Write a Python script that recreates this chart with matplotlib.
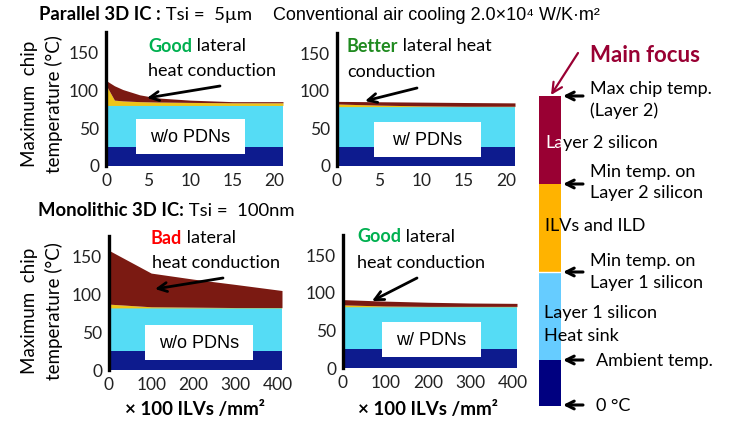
import matplotlib
matplotlib.use('Agg')
import matplotlib.pyplot as plt
from matplotlib.patches import Rectangle

plt.rcParams['font.family'] = ['Lato', 'DejaVu Sans']

W, H = 736, 423

# layer boundary temperatures (degC)
ambient = 25

par_wo_x = [0, 1, 2, 4, 6, 10, 15, 21]
par_wo_l1 = [80, 80, 80, 80, 80, 80, 80, 80]
par_wo_l2min = [107, 87, 86, 85, 84.5, 84, 83.5, 83.5]
par_wo_max = [113, 106, 101, 94, 90, 87, 85, 85]

par_w_x = [0, 5, 10, 15, 21]
par_w_l1 = [79, 79, 79, 79, 79]
par_w_l2min = [82.5, 81, 80, 79.5, 79.5]
par_w_max = [86, 85.5, 85, 84.5, 84]

mono_wo_x = [0, 100, 200, 300, 410]
mono_wo_l1 = [82, 82, 82, 82, 82]
mono_wo_l2min = [87, 83.5, 83, 82.5, 82.5]
mono_wo_max = [158, 128, 120, 113, 105]

mono_w_x = [0, 100, 200, 300, 410]
mono_w_l1 = [81.5, 81.5, 81.5, 81.5, 81.5]
mono_w_l2min = [84, 82.5, 82, 82, 82]
mono_w_max = [91, 89, 87.5, 86.5, 86]

yticks = [0, 50, 100, 150]
par_xticks = [0, 5, 10, 15, 20]
mono_xticks = [0, 100, 200, 300, 400]

c_navy = '#0d1b8e'
c_cyan = '#55dcf5'
c_yel = '#f0c419'
c_red = '#7b1a12'

fig = plt.figure(figsize=(W / 100, H / 100), dpi=100)


def panel(box, x, l1, l2min, tmax, xticks, xmax):
    l, t, r, b = box
    ax = fig.add_axes([l / W, 1 - b / H, (r - l) / W, (b - t) / H])
    base = [ambient] * len(x)
    ax.fill_between(x, 0, base, color=c_navy, lw=0)
    ax.fill_between(x, base, l1, color=c_cyan, lw=0)
    ax.fill_between(x, l1, l2min, color=c_yel, lw=0)
    ax.fill_between(x, l2min, tmax, color=c_red, lw=0)
    ax.set_xlim(0, xmax)
    ax.set_ylim(0, 177)
    ax.set_xticks(xticks)
    ax.set_yticks(yticks)
    ax.tick_params(length=0, labelsize=12.5, pad=5, labelcolor='#222222')
    for s in ['top', 'right', 'bottom']:
        ax.spines[s].set_visible(False)
    ax.spines['left'].set_linewidth(2.4)
    ax.spines['left'].set_color('black')
    return ax


panel((106, 32, 283, 166), par_wo_x, par_wo_l1, par_wo_l2min, par_wo_max, par_xticks, 21)
panel((337, 33, 515, 166), par_w_x, par_w_l1, par_w_l2min, par_w_max, par_xticks, 21)
panel((109, 236, 282, 370), mono_wo_x, mono_wo_l1, mono_wo_l2min, mono_wo_max, mono_xticks, 410)
panel((343, 235, 517, 368), mono_w_x, mono_w_l1, mono_w_l2min, mono_w_max, mono_xticks, 410)

# overlay in pixel coordinates for all the annotation work
ov = fig.add_axes([0, 0, 1, 1], zorder=10)
ov.set_xlim(0, W)
ov.set_ylim(H, 0)
ov.axis('off')
ov.patch.set_visible(False)
rend = fig.canvas.get_renderer()


def rich(x, y, parts, size=12):
    for s, color, weight in parts:
        t = ov.text(x, y, s, color=color, fontweight=weight, fontsize=size,
                    va='center', ha='left')
        x += t.get_window_extent(renderer=rend).width


def arrow(tail, head, color='black', lw=2.0, ms=16):
    ov.annotate('', xy=head, xytext=tail,
                arrowprops=dict(arrowstyle='->', lw=lw, color=color,
                                mutation_scale=ms, shrinkA=0, shrinkB=0))


# titles
rich(39, 15, [('Parallel 3D IC :', 'black', 'bold'), (' Tsi =  5µm', 'black', 'normal')], 13.3)
ov.text(273, 15, 'Conventional air cooling 2.0×10⁴ W/K·m²', fontsize=13,
        family=['Liberation Sans', 'DejaVu Sans'], va='center')
rich(38, 211, [('Monolithic 3D IC:', 'black', 'bold'), (' Tsi =  100nm', 'black', 'normal')], 13.3)

# y labels
for yc in [104, 311]:
    ov.text(42, yc, 'Maximum  chip\ntemperature (°C)', rotation=90, fontsize=13.5,
            ha='center', va='center', multialignment='center', linespacing=1.4)

# x labels
for xc in [195, 428]:
    ov.text(xc, 410, '× 100 ILVs /mm²', fontsize=13.5, fontweight='bold',
            ha='center', va='center')

# panel comments
green = '#00b050'
rich(148, 46, [('Good', green, 'bold'), (' lateral', 'black', 'normal')], 13)
ov.text(148, 71, 'heat conduction', fontsize=13, va='center')
arrow((220, 86), (147, 98))

rich(347, 46, [('Better', '#1f8a1f', 'bold'), (' lateral heat', 'black', 'normal')], 13)
ov.text(347, 72, 'conduction', fontsize=13, va='center')
arrow((417, 88), (365, 101))

rich(151, 238, [('Bad', '#ff0000', 'bold'), (' lateral', 'black', 'normal')], 13)
ov.text(152, 263, 'heat conduction', fontsize=13, va='center')
arrow((223, 278), (155, 289))

rich(357, 237, [('Good', green, 'bold'), (' lateral', 'black', 'normal')], 13)
ov.text(357, 263, 'heat conduction', fontsize=13, va='center')
arrow((417, 278), (372, 301))

# white tags
for (x0, y0, x1, y1), label in [((136, 119, 245, 154), 'w/o PDNs'),
                                ((374, 122, 481, 157), 'w/ PDNs'),
                                ((145, 325, 253, 360), 'w/o PDNs'),
                                ((382, 322, 481, 357), 'w/ PDNs')]:
    ov.add_patch(Rectangle((x0, y0), x1 - x0, y1 - y0, color='white', lw=0))
    ov.text((x0 + x1) / 2, (y0 + y1) / 2 + 1, label, fontsize=13,
            family=['Liberation Sans', 'DejaVu Sans'], ha='center', va='center')

# legend bar
bar_l, bar_r = 539, 561
seg = [(96, 184, '#990033'), (184, 272, '#ffb300'), (272, 360, '#66ccff'), (360, 406, '#000080')]
for y0, y1, c in seg:
    ov.add_patch(Rectangle((bar_l, y0), bar_r - bar_l, y1 - y0, color=c, lw=0))
ov.plot([bar_l, bar_r], [272, 272], color='white', lw=1)

for yy in [96, 184, 272, 360, 405]:
    arrow((583, yy), (563, yy), lw=2.2, ms=14)

ov.text(590, 55, 'Main focus', fontsize=16, fontweight='bold', color='#990033', va='center')
arrow((578, 53), (551, 95), color='#990033', lw=1.6, ms=18)

fs = 13
ov.text(590, 89, 'Max chip temp.', fontsize=fs, va='center')
ov.text(590, 111, '(Layer 2)', fontsize=fs, va='center')
rich(545, 143, [('La', 'white', 'normal'), ('yer 2 silicon', 'black', 'normal')], fs)
ov.text(590, 172, 'Min temp. on', fontsize=fs, va='center')
ov.text(590, 193, 'Layer 2 silicon', fontsize=fs, va='center')
ov.text(545, 226, 'ILVs and ILD', fontsize=fs, va='center')
ov.text(590, 261, 'Min temp. on', fontsize=fs, va='center')
ov.text(590, 283, 'Layer 1 silicon', fontsize=fs, va='center')
ov.text(544, 313, 'Layer 1 silicon', fontsize=fs, va='center')
ov.text(544, 336, 'Heat sink', fontsize=fs, va='center')
ov.text(596, 361, 'Ambient temp.', fontsize=fs, va='center')
ov.text(596, 406, '0 °C', fontsize=fs, va='center')

fig.savefig('out.png', dpi=100)
